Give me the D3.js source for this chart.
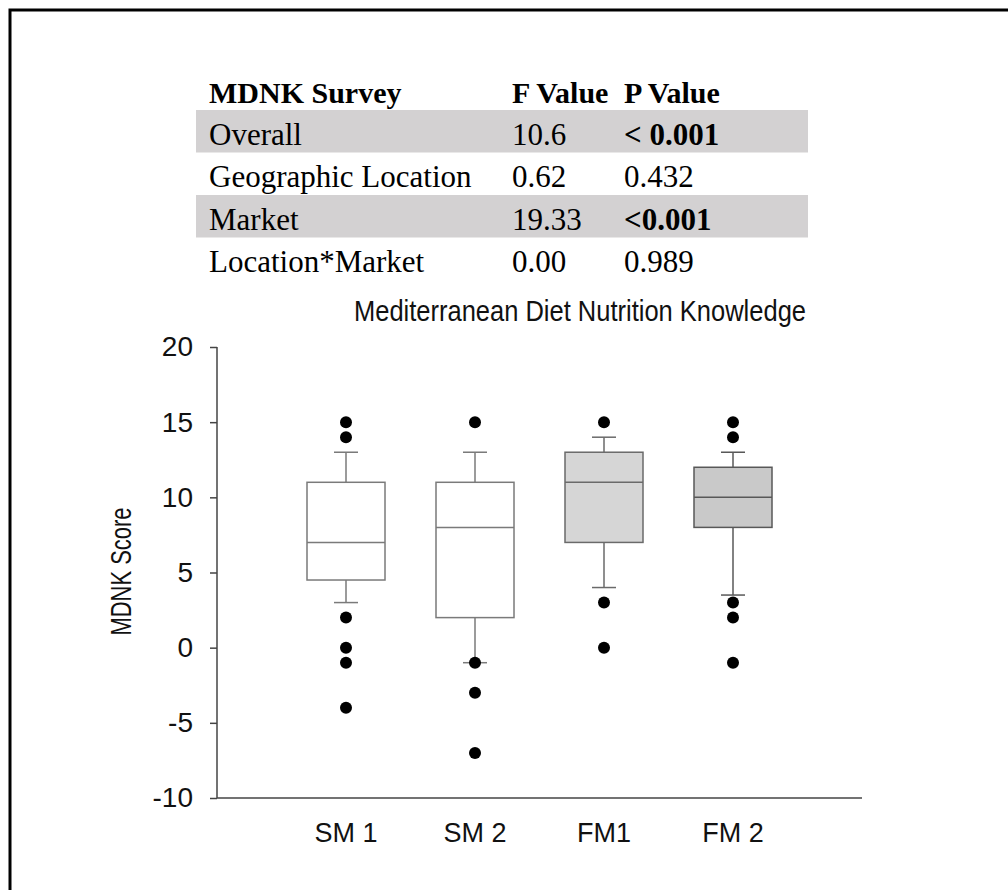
<!DOCTYPE html>
<html>
<head>
<meta charset="utf-8">
<script src="https://cdn.jsdelivr.net/npm/d3@7"></script>
<style>
  body { margin: 0; background: #fff; }
  svg { display: block; }
  .serif { font-family: "Liberation Serif", "Times New Roman", serif; }
  .sans { font-family: "Liberation Sans", Arial, sans-serif; }
</style>
</head>
<body>
<div id="graph"></div>
<script>
// table values
var tableHeader = ["MDNK Survey", "F Value", "P Value"];
var tableRows = ["Overall", "Geographic Location", "Market", "Location*Market"];
var fValues = ["10.6", "0.62", "19.33", "0.00"];
var pValues = ["< 0.001", "0.432", "<0.001", "0.989"];

// box plot values (MDNK score)
var categories = ["SM 1", "SM 2", "FM1", "FM 2"];
var whiskerHigh = [13, 13, 14, 13];
var q3 = [11, 11, 13, 12];
var median = [7, 8, 11, 10];
var q1 = [4.5, 2, 7, 8];
var whiskerLow = [3, -1, 4, 3.5];
var outliers = [[15, 14, 2, 0, -1, -4], [15, -1, -3, -7], [15, 3, 0], [15, 14, 3, 2, -1]];
var yTicks = [20, 15, 10, 5, 0, -5, -10];

var w = 1008, h = 890;
var svg = d3.select("div#graph").append("svg")
  .attr("width", w)
  .attr("height", h);

// outer frame (right and bottom edges fall outside the picture)
svg.append("rect")
  .attr("x", 10).attr("y", 10)
  .attr("width", 1010).attr("height", 900)
  .attr("fill", "none")
  .style("stroke", "#000")
  .style("stroke-width", "3px");

///////////////////////////////////////////
// table
var colX = d3.scaleOrdinal().domain(tableHeader).range([209, 512, 624]);
var rowY = d3.scaleBand().domain(tableRows).range([110, 280]);
var shaded = ["Overall", "Market"];

svg.selectAll("rect.band")
  .data(tableRows.filter(function(d) { return shaded.indexOf(d) >= 0; }))
  .enter().append("rect")
  .attr("class", "band")
  .attr("x", 196)
  .attr("width", 612)
  .attr("y", function(d) { return rowY(d); })
  .attr("height", rowY.bandwidth())
  .attr("fill", "#d3d1d2");

svg.selectAll("text.head")
  .data(tableHeader).enter().append("text")
  .attr("class", "head serif")
  .attr("x", function(d) { return colX(d); })
  .attr("y", 103)
  .style("font-size", "30px")
  .style("font-weight", "bold")
  .text(function(d) { return d; });

var cells = [];
tableRows.forEach(function(r, i) {
  cells.push({ col: tableHeader[0], row: r, text: r, bold: false });
  cells.push({ col: tableHeader[1], row: r, text: fValues[i], bold: false });
  cells.push({ col: tableHeader[2], row: r, text: pValues[i], bold: pValues[i].indexOf("<") >= 0 });
});
svg.selectAll("text.cell")
  .data(cells).enter().append("text")
  .attr("class", "cell serif")
  .attr("x", function(d) { return colX(d.col); })
  .attr("y", function(d) { return rowY(d.row) + rowY.bandwidth() - 8; })
  .style("font-size", "31px")
  .style("font-weight", function(d) { return d.bold ? "bold" : "normal"; })
  .text(function(d) { return d.text; });

///////////////////////////////////////////
// box plot
var x = d3.scalePoint().domain(categories).range([217, 862]).padding(1);
var y = d3.scaleLinear().domain([-10, 20]).range([798, 347]);
var fill = d3.scaleOrdinal().domain(categories).range(["#ffffff", "#ffffff", "#d6d6d6", "#c9c9c9"]);
var edge = d3.scaleOrdinal().domain(categories).range(["#7a7a7a", "#7a7a7a", "#6a6a6a", "#585858"]);
var boxW = 78, capW = 24;

svg.append("text")
  .attr("class", "sans")
  .attr("x", 580).attr("y", 321)
  .attr("text-anchor", "middle")
  .attr("textLength", 452)
  .attr("lengthAdjust", "spacingAndGlyphs")
  .style("font-size", "29px")
  .attr("fill", "#111")
  .text("Mediterranean Diet Nutrition Knowledge");

var yAxis = svg.append("g")
  .attr("class", "sans")
  .attr("transform", "translate(217,0)")
  .call(d3.axisLeft(y).tickValues(yTicks).tickSize(7).tickPadding(17)
    .tickFormat(function(d) { return String(d); }));
yAxis.selectAll("text").style("font-size", "28px").attr("fill", "#111").style("font-family", "Liberation Sans, Arial, sans-serif");
yAxis.selectAll("line, path").style("stroke", "#444").style("stroke-width", "1.5px");
yAxis.select(".domain").attr("d", "M0," + y(20) + "V" + y(-10));

svg.append("line")
  .attr("x1", 217).attr("x2", x.range()[1])
  .attr("y1", y(-10)).attr("y2", y(-10))
  .style("stroke", "#444").style("stroke-width", "1.5px");

svg.selectAll("text.xlab")
  .data(categories).enter().append("text")
  .attr("class", "xlab sans")
  .attr("x", function(d) { return x(d); })
  .attr("y", 842)
  .attr("text-anchor", "middle")
  .style("font-size", "27px")
  .attr("fill", "#111")
  .text(function(d) { return d; });

svg.append("text")
  .attr("class", "sans")
  .attr("transform", "translate(131," + (y(5) - 1) + ") rotate(-90)")
  .attr("text-anchor", "middle")
  .attr("textLength", 128)
  .attr("lengthAdjust", "spacingAndGlyphs")
  .style("font-size", "29px")
  .attr("fill", "#111")
  .text("MDNK Score");

var boxes = svg.selectAll("g.box")
  .data(categories).enter().append("g")
  .attr("class", "box")
  .attr("transform", function(d) { return "translate(" + x(d) + ",0)"; });

// whiskers
boxes.append("line")
  .attr("y1", function(d, i) { return y(whiskerHigh[i]); })
  .attr("y2", function(d, i) { return y(whiskerLow[i]); })
  .style("stroke", function(d) { return edge(d); })
  .style("stroke-width", "1.5px");
boxes.selectAll("line.cap")
  .data(function(d, i) { return [{ c: d, v: whiskerHigh[i] }, { c: d, v: whiskerLow[i] }]; })
  .enter().append("line")
  .attr("class", "cap")
  .attr("x1", -capW / 2).attr("x2", capW / 2)
  .attr("y1", function(d) { return y(d.v); })
  .attr("y2", function(d) { return y(d.v); })
  .style("stroke", function(d) { return edge(d.c); })
  .style("stroke-width", "1.5px");

boxes.append("rect")
  .attr("x", -boxW / 2)
  .attr("width", boxW)
  .attr("y", function(d, i) { return y(q3[i]); })
  .attr("height", function(d, i) { return y(q1[i]) - y(q3[i]); })
  .attr("fill", function(d) { return fill(d); })
  .style("stroke", function(d) { return edge(d); })
  .style("stroke-width", "1.5px");

boxes.append("line")
  .attr("x1", -boxW / 2).attr("x2", boxW / 2)
  .attr("y1", function(d, i) { return y(median[i]); })
  .attr("y2", function(d, i) { return y(median[i]); })
  .style("stroke", function(d) { return edge(d); })
  .style("stroke-width", "1.5px");

boxes.selectAll("circle")
  .data(function(d, i) { return outliers[i]; })
  .enter().append("circle")
  .attr("cy", function(d) { return y(d); })
  .attr("r", 6)
  .attr("fill", "#000");
</script>
</body>
</html>
